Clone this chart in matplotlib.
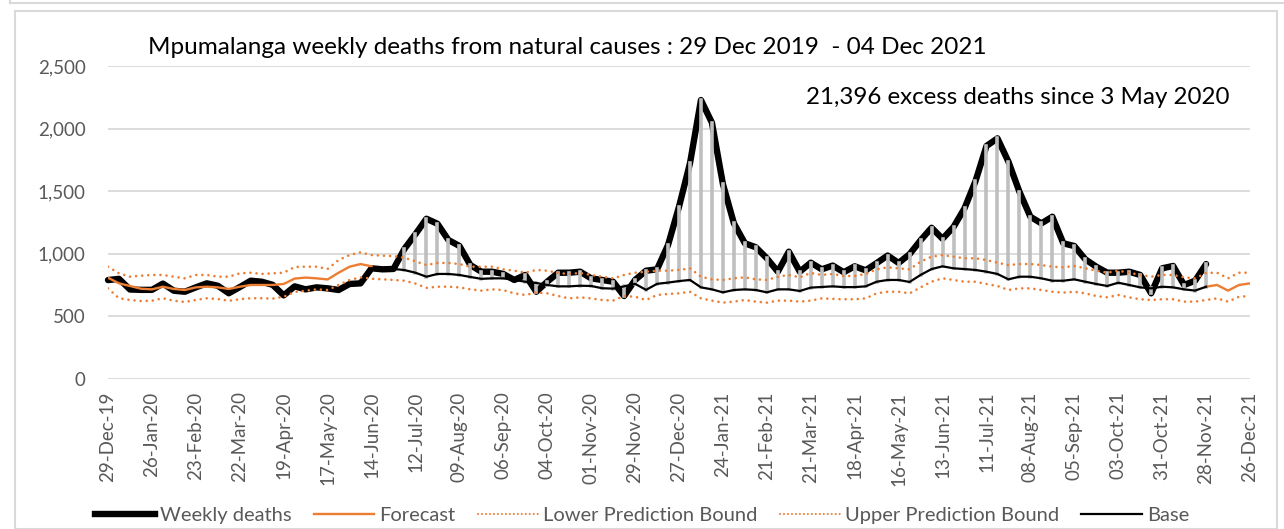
import numpy as np
import matplotlib
matplotlib.use("Agg")
import matplotlib.pyplot as plt
from matplotlib.lines import Line2D
from matplotlib.patches import Rectangle

plt.rcParams['font.family'] = ['Lato', 'DejaVu Sans']

# week index 0 = 29-Dec-2019, one value per week
weekly_deaths = [
    790, 800, 715, 712, 712, 762, 705, 697, 732, 764,
    745, 685, 734, 785, 777, 752, 668, 740, 716, 732,
    724, 711, 759, 764, 884, 876, 879, 1040, 1157, 1280,
    1240, 1110, 1063, 910, 857, 857, 839, 791, 831, 697,
    777, 849, 849, 857, 804, 791, 777, 663, 791, 865,
    876, 1070, 1376, 1723, 2228, 2047, 1557, 1243, 1084, 1052,
    964, 857, 1017, 857, 929, 876, 906, 853, 900, 868,
    926, 986, 927, 997, 1108, 1208, 1120, 1214, 1363, 1580,
    1861, 1922, 1736, 1496, 1296, 1243, 1296, 1084, 1062, 956,
    897, 849, 849, 857, 831, 684, 884, 903, 751, 785,
    918,
]

# forecast only shows before the base starts and after the last reported week
forecast = [
    809, 764, 743, 721, 716, 737, 719, 711, 732, 737,
    732, 719, 737, 751, 751, 751, 759, 802, 810, 804,
    795, 849, 897, 918, 900,
] + [None] * 75 + [737, 751, 706, 751, 764]

# base from week 18 (3 May 2020) to week 100
base_start = 18
base = [
    716, 732, 724, 711, 759, 764, 884, 876, 879, 870,
    849, 817, 839, 839, 831, 815, 800, 804, 804, 791,
    777, 767, 751, 740, 740, 745, 743, 725, 722, 740,
    760, 712, 760, 770, 782, 791, 732, 716, 692, 711,
    716, 711, 692, 716, 716, 703, 730, 735, 740, 734,
    734, 740, 777, 791, 791, 775, 831, 878, 900, 884,
    878, 871, 857, 839, 796, 817, 817, 804, 785, 785,
    796, 777, 759, 743, 769, 751, 732, 724, 737, 732,
    716, 706, 737,
]

upper_bound = [
    897, 844, 817, 825, 831, 831, 817, 804, 831, 831,
    817, 817, 844, 849, 839, 844, 849, 895, 897, 897,
    879, 950, 990, 1012, 990, 985, 982, 968, 940, 910,
    927, 927, 918, 897, 897, 897, 876, 865, 849, 871,
    865, 847, 839, 847, 831, 817, 804, 831, 849, 857,
    865, 865, 871, 884, 817, 796, 791, 804, 812, 796,
    791, 817, 831, 812, 847, 831, 839, 823, 823, 839,
    876, 892, 884, 876, 937, 977, 990, 977, 964, 964,
    950, 929, 910, 918, 918, 910, 897, 892, 903, 884,
    865, 849, 865, 849, 831, 817, 831, 831, 812, 804,
    847, 849, 804, 849, 849,
]

lower_bound = [
    724, 645, 631, 623, 625, 645, 625, 615, 631, 645,
    639, 625, 637, 645, 645, 642, 657, 695, 705, 716,
    711, 751, 791, 812, 801, 796, 791, 785, 762, 728,
    737, 737, 732, 716, 706, 716, 710, 684, 671, 690,
    684, 663, 644, 652, 644, 631, 626, 663, 657, 631,
    671, 679, 684, 697, 644, 626, 610, 618, 631, 618,
    610, 626, 626, 618, 626, 644, 640, 637, 637, 644,
    684, 697, 697, 684, 732, 777, 804, 791, 777, 777,
    759, 743, 711, 724, 724, 711, 697, 690, 697, 684,
    663, 652, 671, 652, 637, 631, 637, 637, 618, 618,
    631, 644, 618, 657, 663,
]

tick_labels = [
    "29-Dec-19", "26-Jan-20", "23-Feb-20", "22-Mar-20", "19-Apr-20", "17-May-20",
    "14-Jun-20", "12-Jul-20", "09-Aug-20", "06-Sep-20", "04-Oct-20", "01-Nov-20",
    "29-Nov-20", "27-Dec-20", "24-Jan-21", "21-Feb-21", "21-Mar-21", "18-Apr-21",
    "16-May-21", "13-Jun-21", "11-Jul-21", "08-Aug-21", "05-Sep-21", "03-Oct-21",
    "31-Oct-21", "28-Nov-21", "26-Dec-21",
]

title = "Mpumalanga weekly deaths from natural causes : 29 Dec 2019  - 04 Dec 2021"
note = "21,396 excess deaths since 3 May 2020"

ORANGE = "#ed7d31"
GREY = "#595959"

weeks_all = np.arange(len(upper_bound))
weeks_obs = np.arange(len(weekly_deaths))
weeks_base = np.arange(base_start, base_start + len(base))
fc = np.array([np.nan if v is None else v for v in forecast], dtype=float)

fig = plt.figure(figsize=(12.84, 5.29), dpi=100)
ax = fig.add_axes([108 / 1284, 1 - 379 / 529, (1250 - 108) / 1284, (379 - 66) / 529])

# chart frame
fig.patches.append(Rectangle((15 / 1284, 0), 1262 / 1284, 1 - 11 / 529, transform=fig.transFigure,
                             fill=False, edgecolor="#d9d9d9", lw=1.5))
fig.add_artist(Line2D([10 / 1284, 1], [1 - 3 / 529, 1 - 3 / 529], color="#d9d9d9", lw=1.5))
fig.add_artist(Line2D([10 / 1284, 10 / 1284], [1 - 3 / 529, 1], color="#d9d9d9", lw=1.5))

ax.plot(weeks_obs, weekly_deaths, color="black", lw=4.6, solid_joinstyle="round",
        solid_capstyle="round", clip_on=False, zorder=3)

obs_at_base = np.array(weekly_deaths)[weeks_base]
ax.vlines(weeks_base, base, obs_at_base, color="#bfbfbf", lw=2.6, capstyle="projecting", zorder=4)

ax.plot(weeks_all, fc, color=ORANGE, lw=1.7, zorder=5)
ax.plot(weeks_base, base, color="black", lw=1.6, zorder=5)
dots = (0, (0.01, 2.3))
ax.plot(weeks_all, lower_bound, color=ORANGE, lw=1.9, ls=dots, dash_capstyle="round", zorder=6)
ax.plot(weeks_all, upper_bound, color=ORANGE, lw=1.9, ls=dots, dash_capstyle="round", zorder=6)

ax.set_xlim(0, 104)
ax.set_ylim(0, 2500)
ax.set_yticks(range(0, 2501, 500))
ax.set_yticklabels([f"{v:,}" for v in range(0, 2501, 500)])
ax.set_xticks(np.arange(0, 105, 4))
ax.set_xticklabels(tick_labels, rotation=90)
ax.tick_params(axis="both", length=0, colors=GREY, labelsize=13.5)
ax.tick_params(axis="x", pad=9)
ax.tick_params(axis="y", pad=16)
ax.grid(axis="y", color="#d9d9d9", lw=1.3)
ax.set_axisbelow(True)
for s in ax.spines.values():
    s.set_visible(False)

fig.text(148 / 1284, 1 - 47 / 529, title, fontsize=17.5, ha="left", va="center", color="black")
fig.text(1230 / 1284, 1 - 97 / 529, note, fontsize=17.4, ha="right", va="center", color="black")

handles = [
    Line2D([], [], color="black", lw=4.6),
    Line2D([], [], color=ORANGE, lw=1.7),
    Line2D([], [], color=ORANGE, lw=1.5, ls=(0, (0.01, 1.9)), dash_capstyle="round"),
    Line2D([], [], color=ORANGE, lw=1.5, ls=(0, (0.01, 1.9)), dash_capstyle="round"),
    Line2D([], [], color="black", lw=1.6),
]
labels = ["Weekly deaths", "Forecast", "Lower Prediction Bound", "Upper Prediction Bound", "Base"]
leg = fig.legend(handles, labels, loc="center", bbox_to_anchor=(0.5, 1 - 515 / 529), ncol=5,
                 frameon=False, fontsize=14.5, handlelength=3.0, handletextpad=0.25,
                 columnspacing=1.1, borderpad=0)
for t in leg.get_texts():
    t.set_color(GREY)

fig.savefig("out.png", dpi=100)
